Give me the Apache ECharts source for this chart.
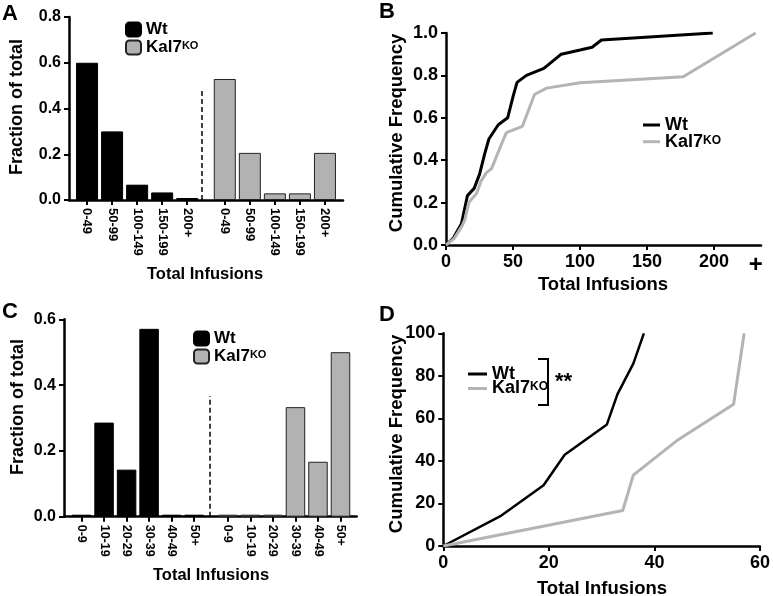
<!DOCTYPE html>
<html><head><meta charset="utf-8">
<script src="https://cdn.jsdelivr.net/npm/echarts@6/dist/echarts.min.js"></script>
<style>html,body{margin:0;padding:0;background:#fff}#c{width:773px;height:596px}</style>
</head><body><div id="c"></div>
<script>
// ---------- data ----------
const histA_cats = ['0-49', '50-99', '100-149', '150-199', '200+'];
const histA_wt = [0.600, 0.300, 0.067, 0.033, 0];
const histA_ko = [0.529, 0.206, 0.029, 0.029, 0.206];

const histC_cats = ['0-9', '10-19', '20-29', '30-39', '40-49', '50+'];
const histC_wt = [0, 0.286, 0.143, 0.571, 0, 0];
const histC_ko = [0, 0, 0, 0.333, 0.167, 0.500];

const cdfB_wt_x = [0, 5.5, 11.5, 16, 21, 25, 29, 32, 39, 46, 50, 53, 60, 73, 86, 100, 109, 116, 199];
const cdfB_wt_y = [0, 0.033, 0.1, 0.233, 0.267, 0.333, 0.433, 0.5, 0.567, 0.6, 0.7, 0.767, 0.8, 0.833, 0.9, 0.92, 0.933, 0.967, 1.0];
const cdfB_ko_x = [0, 6, 12, 14, 17, 23, 26, 30, 34, 41, 45, 57, 60, 66, 75, 100, 177, 231];
const cdfB_ko_y = [0, 0.03, 0.09, 0.118, 0.2, 0.245, 0.3, 0.34, 0.36, 0.47, 0.53, 0.56, 0.61, 0.71, 0.74, 0.765, 0.794, 1.0];
const cdfB_plusValue = 231;   // the "+" (200+) column position

const cdfD_wt_x = [0, 11, 19, 23, 31, 33, 36, 38];
const cdfD_wt_y = [0, 14.29, 28.57, 42.86, 57.14, 71.43, 85.71, 100];
const cdfD_ko_x = [0, 34, 36, 44.5, 55, 57];
const cdfD_ko_y = [0, 16.67, 33.33, 50, 66.67, 100];

const dividerA = [4.6, 0.49];   // dashed separator (x position, top value)
const dividerC = [5.7, 0.367];

// ---------- helpers ----------
const FONT = 'Liberation Sans, Arial, sans-serif';
const GREY_BAR = '#b2b2b2';
const GREY_LINE = '#b4b4b4';
function positions(cats) {
  const n = cats.length;
  return { wt: cats.map((_, i) => i), ko: cats.map((_, i) => i + n + 0.5) };
}
const posA = positions(histA_cats);
const posC = positions(histC_cats);
function labelMap(cats, pos) {
  const m = {};
  cats.forEach((c, i) => { m[pos.wt[i]] = c; m[pos.ko[i]] = c; });
  return m;
}
const labA = labelMap(histA_cats, posA);
const labC = labelMap(histC_cats, posC);
const zip = (xs, ys) => xs.map((x, i) => [x, ys[i]]);

function axisCommon(fs) {
  return {
    axisLine: { show: true, onZero: false, lineStyle: { color: '#000', width: 2.5 } },
    axisTick: { show: true, length: 5, lineStyle: { color: '#000', width: 2 } },
    axisLabel: { color: '#000', fontFamily: FONT, fontWeight: 'bold', fontSize: fs },
    splitLine: { show: false }
  };
}
function legendText(name) { return name.endsWith('Wt') ? 'Wt' : 'Kal7{sup|KO}'; }
function legendStyle(fs) {
  return { color: '#000', fontFamily: FONT, fontWeight: 'bold', fontSize: fs, lineHeight: 15,
    rich: { sup: { fontFamily: FONT, fontWeight: 'bold', fontSize: Math.round(fs * 0.65), lineHeight: 10, verticalAlign: 'top', color: '#000' } } };
}

const grids = [
  { left: 69, top: 17, width: 274, height: 183 },
  { left: 446, top: 33, width: 315, height: 212 },
  { left: 64, top: 319.3, width: 292.7, height: 197.4 },
  { left: 443.3, top: 333.3, width: 318, height: 212.7 }
];

function histX(gi, pos, lab, fs, min, max) {
  const c = axisCommon(fs);
  const vals = pos.wt.concat(pos.ko);
  return Object.assign(c, {
    type: 'value', gridIndex: gi, min: min, max: max,
    axisTick: Object.assign(c.axisTick, { customValues: vals }),
    axisLabel: Object.assign(c.axisLabel, { customValues: vals, rotate: -90, margin: 8, formatter: v => lab[v] || '' })
  });
}

const option = {
  animation: false,
  backgroundColor: '#fff',
  grid: grids,
  xAxis: [
    histX(0, posA, labA, 13, -0.72, 10.22),
    Object.assign(axisCommon(18), { type: 'value', gridIndex: 1, min: 0, max: 235,
      axisTick: { show: true, length: 5, lineStyle: { color: '#000', width: 2 }, customValues: [0, 50, 100, 150, 200] },
      axisLabel: { color: '#000', fontFamily: FONT, fontWeight: 'bold', fontSize: 18, margin: 8,
        customValues: [0, 50, 100, 150, 200, cdfB_plusValue],
        formatter: v => v === cdfB_plusValue ? '{p|+}' : String(v),
        rich: { p: { fontSize: 24, fontWeight: 'bold', fontFamily: FONT, color: '#000' } } } }),
    histX(2, posC, labC, 12.5, -0.78, 12.22),
    Object.assign(axisCommon(18), { type: 'value', gridIndex: 3, min: 0, max: 60, interval: 20 })
  ],
  yAxis: [
    Object.assign(axisCommon(16), { type: 'value', gridIndex: 0, min: 0, max: 0.8, interval: 0.2,
      axisLabel: Object.assign(axisCommon(16).axisLabel, { formatter: v => v.toFixed(1) }) }),
    Object.assign(axisCommon(18), { type: 'value', gridIndex: 1, min: 0, max: 1.0, interval: 0.2,
      axisLabel: Object.assign(axisCommon(18).axisLabel, { formatter: v => v.toFixed(1) }) }),
    Object.assign(axisCommon(16), { type: 'value', gridIndex: 2, min: 0, max: 0.6, interval: 0.2,
      axisLabel: Object.assign(axisCommon(16).axisLabel, { formatter: v => v.toFixed(1) }) }),
    Object.assign(axisCommon(18), { type: 'value', gridIndex: 3, min: 0, max: 100, interval: 20 })
  ],
  legend: [
    { data: ['A_Wt', 'A_KO'], orient: 'vertical', left: 120, top: 16, itemWidth: 15, itemHeight: 14, itemGap: 1,
      formatter: legendText, textStyle: legendStyle(17), selectedMode: false },
    { data: [{ name: 'B_Wt', icon: 'rect' }, { name: 'B_KO', icon: 'rect' }], orient: 'vertical', left: 638, top: 111,
      itemWidth: 17, itemHeight: 3, itemGap: -1.3,
      formatter: legendText, textStyle: legendStyle(18), selectedMode: false },
    { data: ['C_Wt', 'C_KO'], orient: 'vertical', left: 188, top: 325, itemWidth: 15, itemHeight: 14, itemGap: 1,
      formatter: legendText, textStyle: legendStyle(17), selectedMode: false },
    { data: [{ name: 'D_Wt', icon: 'rect' }, { name: 'D_KO', icon: 'rect' }], orient: 'vertical', left: 463, top: 360,
      itemWidth: 19, itemHeight: 3, itemGap: -3.5,
      formatter: legendText, textStyle: legendStyle(18), selectedMode: false }
  ],
  series: [
    { name: 'A_Wt', type: 'bar', xAxisIndex: 0, yAxisIndex: 0, barWidth: 22, barGap: '-100%', barMinHeight: 2,
      itemStyle: { color: '#000', borderColor: '#000', borderWidth: 1 },
      data: zip(posA.wt, histA_wt),
      markLine: { symbol: 'none', silent: true, label: { show: false }, animation: false,
        lineStyle: { type: [5, 3], color: '#000', width: 1.5 },
        data: [[{ coord: [dividerA[0], 0] }, { coord: [dividerA[0], dividerA[1]] }]] } },
    { name: 'A_KO', type: 'bar', xAxisIndex: 0, yAxisIndex: 0, barWidth: 22, barGap: '-100%', barMinHeight: 2,
      itemStyle: { color: GREY_BAR, borderColor: '#222', borderWidth: 1 },
      data: zip(posA.ko, histA_ko) },
    { name: 'B_Wt', type: 'line', xAxisIndex: 1, yAxisIndex: 1, symbol: 'none', showSymbol: false,
      lineStyle: { color: '#000', width: 3 }, itemStyle: { color: '#000' }, data: zip(cdfB_wt_x, cdfB_wt_y) },
    { name: 'B_KO', type: 'line', xAxisIndex: 1, yAxisIndex: 1, symbol: 'none', showSymbol: false,
      lineStyle: { color: GREY_LINE, width: 3 }, itemStyle: { color: GREY_LINE }, data: zip(cdfB_ko_x, cdfB_ko_y) },
    { name: 'C_Wt', type: 'bar', xAxisIndex: 2, yAxisIndex: 2, barWidth: 19.5, barGap: '-100%', barMinHeight: 2,
      itemStyle: { color: '#000', borderColor: '#000', borderWidth: 1 },
      data: zip(posC.wt, histC_wt),
      markLine: { symbol: 'none', silent: true, label: { show: false }, animation: false,
        lineStyle: { type: [5, 3], color: '#000', width: 1.5 },
        data: [[{ coord: [dividerC[0], 0] }, { coord: [dividerC[0], dividerC[1]] }]] } },
    { name: 'C_KO', type: 'bar', xAxisIndex: 2, yAxisIndex: 2, barWidth: 19.5, barGap: '-100%', barMinHeight: 2,
      itemStyle: { color: GREY_BAR, borderColor: '#222', borderWidth: 1 },
      data: zip(posC.ko, histC_ko) },
    { name: 'D_Wt', type: 'line', xAxisIndex: 3, yAxisIndex: 3, symbol: 'none', showSymbol: false,
      lineStyle: { color: '#000', width: 2.5 }, itemStyle: { color: '#000' }, data: zip(cdfD_wt_x, cdfD_wt_y) },
    { name: 'D_KO', type: 'line', xAxisIndex: 3, yAxisIndex: 3, symbol: 'none', showSymbol: false,
      lineStyle: { color: GREY_LINE, width: 3 }, itemStyle: { color: GREY_LINE }, data: zip(cdfD_ko_x, cdfD_ko_y) }
  ],
  graphic: [
    // panel letters
    { type: 'text', left: 2, top: 3, style: { text: 'A', font: 'bold 22px ' + FONT, fill: '#000' } },
    { type: 'text', left: 379, top: 1, style: { text: 'B', font: 'bold 22px ' + FONT, fill: '#000' } },
    { type: 'text', left: 2, top: 301, style: { text: 'C', font: 'bold 22px ' + FONT, fill: '#000' } },
    { type: 'text', left: 379, top: 304, style: { text: 'D', font: 'bold 22px ' + FONT, fill: '#000' } },
    // axis titles
    { type: 'text', x: 17.5, y: 107, rotation: Math.PI / 2, style: { text: 'Fraction of total', font: 'bold 18px ' + FONT, fill: '#000', align: 'center', verticalAlign: 'middle' } },
    { type: 'text', x: 396.5, y: 133, rotation: Math.PI / 2, style: { text: 'Cumulative Frequency', font: 'bold 18.5px ' + FONT, fill: '#000', align: 'center', verticalAlign: 'middle' } },
    { type: 'text', x: 18, y: 407, rotation: Math.PI / 2, style: { text: 'Fraction of total', font: 'bold 18px ' + FONT, fill: '#000', align: 'center', verticalAlign: 'middle' } },
    { type: 'text', x: 396.5, y: 434, rotation: Math.PI / 2, style: { text: 'Cumulative Frequency', font: 'bold 18.5px ' + FONT, fill: '#000', align: 'center', verticalAlign: 'middle' } },
    { type: 'text', x: 205, y: 274, style: { text: 'Total Infusions', font: 'bold 16.5px ' + FONT, fill: '#000', align: 'center', verticalAlign: 'middle' } },
    { type: 'text', x: 603, y: 285, style: { text: 'Total Infusions', font: 'bold 18.5px ' + FONT, fill: '#000', align: 'center', verticalAlign: 'middle' } },
    { type: 'text', x: 211, y: 575, style: { text: 'Total Infusions', font: 'bold 16.5px ' + FONT, fill: '#000', align: 'center', verticalAlign: 'middle' } },
    { type: 'text', x: 602, y: 589, style: { text: 'Total Infusions', font: 'bold 18.5px ' + FONT, fill: '#000', align: 'center', verticalAlign: 'middle' } },
    // significance bracket in D
    { type: 'polyline', shape: { points: [[538, 359], [548, 359], [548, 405], [538, 405]] }, style: { stroke: '#000', lineWidth: 2, fill: null } },
    { type: 'text', x: 555, y: 382, style: { text: '**', font: 'bold 22px ' + FONT, fill: '#000', align: 'left', verticalAlign: 'middle' } }
  ]
};
const chart = echarts.init(document.getElementById('c'), null, { renderer: 'canvas' });
chart.setOption(option);
</script></body></html>
